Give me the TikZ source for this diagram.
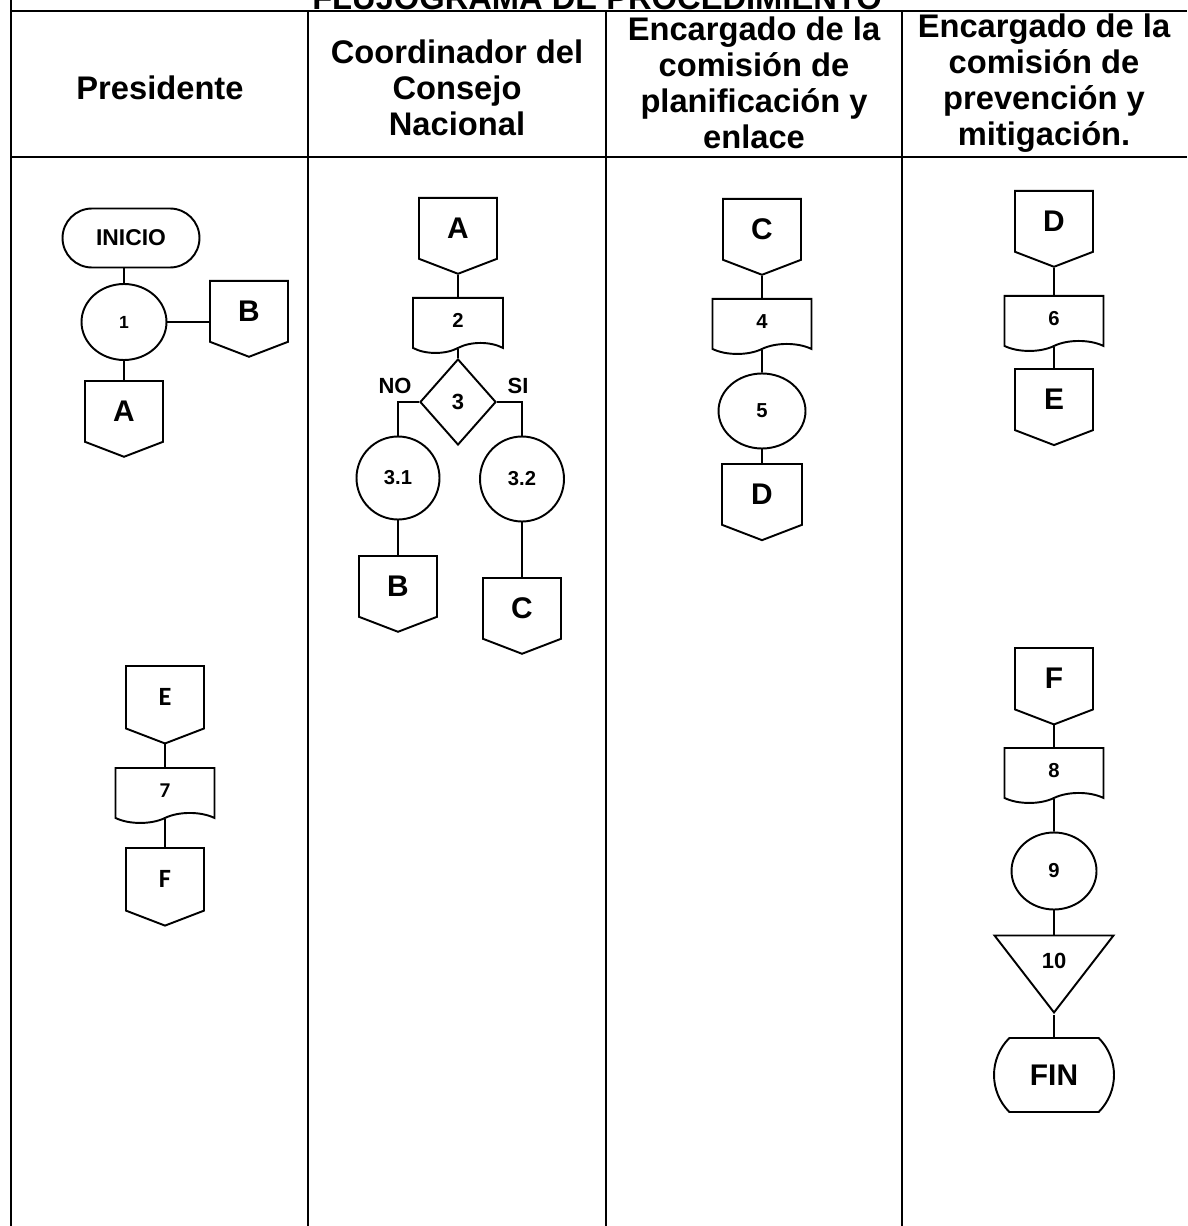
\documentclass[tikz,border=0pt]{standalone}
\usepackage{fontspec}
\setmainfont{Liberation Sans}
\newfontfamily\calfont{Carlito}
\usetikzlibrary{shapes.geometric, shapes.symbols, shapes.misc, positioning}

\tikzset{
  cabecera/.style={align=center, font=\bfseries\fontsize{18.6}{20.5}\selectfont},
  terminal/.style={rounded rectangle, draw, line width=1.1pt, inner sep=0pt},
  paso/.style={ellipse, draw, line width=1.1pt, minimum width=1.7cm, minimum height=1.52cm, inner sep=0pt, font=\bfseries\fontsize{11.5}{12}\selectfont},
  conector/.style={signal, signal to=south, signal from=nowhere, signal pointer angle=138, draw, line width=1.1pt, minimum width=1.56cm, minimum height=1.3cm, inner sep=0pt, font=\bfseries\fontsize{17}{18}\selectfont},
  documento/.style={tape, tape bend top=none, tape bend bottom=in and out, tape bend height=0.2cm, draw, line width=1.1pt, minimum width=1.98cm, minimum height=1.1cm, inner sep=0pt, font=\bfseries\fontsize{11.5}{12}\selectfont},
  decision/.style={diamond, draw, line width=1.1pt, minimum width=1.52cm, minimum height=1.72cm, inner sep=0pt, font=\bfseries\fontsize{12.5}{13}\selectfont},
  archivo/.style={isosceles triangle, shape border rotate=-90, isosceles triangle stretches, draw, line width=1.1pt, minimum width=2.38cm, minimum height=1.54cm, inner sep=0pt, font=\bfseries\fontsize{12.5}{13}\selectfont},
  rama/.style={font=\bfseries\fontsize{12.5}{13}\selectfont},
  linea/.style={line width=1.1pt},
  tabla/.style={line width=0.9pt},
}

\begin{document}
\begin{tikzpicture}[x=0.02cm, y=-0.02cm]

\pgfdeclarelayer{bg}    % capa de fondo para la tabla
\pgfsetlayers{bg,main}

\useasboundingbox (0,0) rectangle (1187,1226);
\clip (0,0) rectangle (1187,1226);

% titulo y cabeceras
\node (titulo)[cabecera, anchor=base] at (597, 10) {FLUJOGRAMA DE PROCEDIMIENTO};
\node (hPres)[cabecera] at (160, 88) {Presidente};
\node (hCoord)[cabecera] at (457, 88) {Coordinador del\\Consejo\\Nacional};
\node (hPlan)[cabecera] at (754, 83) {Encargado de la\\comisión de\\planificación y\\enlace};
\node (hPrev)[cabecera] at (1044, 83) {Encargado de la\\comisión de\\prevención y\\mitigación.};

% Presidente
\node (ini)[terminal, minimum width=2.74cm, minimum height=1.18cm, font=\bfseries\fontsize{13}{14}\selectfont] at (131, 238) {INICIO};
\node (p1)[paso, font=\bfseries\fontsize{10}{11}\selectfont] at (124, 322) {1};
\node (B1)[conector, anchor=north] at (249, 280) {B};
\node (A1)[conector, anchor=north] at (124, 380) {A};

\node (E1)[conector, anchor=north, font=\calfont\bfseries\fontsize{15}{16}\selectfont] at (165, 665) {E};
\node (d7)[documento, anchor=north, font=\calfont\bfseries\fontsize{12}{13}\selectfont] at (165, 767) {7};
\node (F1)[conector, anchor=north, font=\calfont\bfseries\fontsize{15}{16}\selectfont] at (165, 847) {F};

\draw[linea] (ini.south -| p1) -- (p1.north);
\draw[linea] (p1.east) -- (p1.east -| B1.west);
\draw[linea] (p1.south) -- (A1.north);
\draw[linea] (E1.south) -- (d7.north);
\draw[linea] (d7) -- (F1.north);

% Coordinador
\node (A2)[conector, anchor=north] at (458, 197) {A};
\node (d2)[documento, anchor=north, minimum width=1.8cm] at (458, 297) {2};
\node (p3)[decision] at (458, 402) {3};
\node (no)[rama] at (395, 386) {NO};
\node (si)[rama] at (518, 386) {SI};
\node (p31)[paso, minimum width=1.66cm, minimum height=1.66cm] at (398, 478) {3.1};
\node (p32)[paso, minimum width=1.68cm, minimum height=1.7cm] at (522, 479) {3.2};
\node (B2)[conector, anchor=north] at (398, 555) {B};
\node (C2)[conector, anchor=north] at (522, 577) {C};

\draw[linea] (A2.south) -- (d2.north);
\draw[linea] (d2) -- (p3.north);
\draw[linea] (p3.west) -| (p31.north);
\draw[linea] (p3.east) -| (p32.north);
\draw[linea] (p31.south) -- (B2.north);
\draw[linea] (p32.south) -- (C2.north);

% Planificacion
\node (C3)[conector, anchor=north] at (762, 198) {C};
\node (d4)[documento, anchor=north] at (762, 298) {4};
\node (p5)[paso, minimum width=1.74cm, minimum height=1.5cm] at (762, 411) {5};
\node (D3)[conector, anchor=north, minimum width=1.6cm] at (762, 463) {D};

\draw[linea] (C3.south) -- (d4.north);
\draw[linea] (d4) -- (p5.north);
\draw[linea] (p5.south) -- (D3.north);

% Prevencion
\node (D4)[conector, anchor=north] at (1054, 190) {D};
\node (d6)[documento, anchor=north] at (1054, 295) {6};
\node (E4)[conector, anchor=north] at (1054, 368) {E};

\node (F4)[conector, anchor=north] at (1054, 647) {F};
\node (d8)[documento, anchor=north] at (1054, 747) {8};
\node (p9)[paso, minimum width=1.7cm, minimum height=1.54cm] at (1054, 871) {9};
\node (a10)[archivo, anchor=apex] at (1054, 1015) {10};
\node (fin)[terminal, rounded rectangle arc length=90, minimum width=2.4cm, minimum height=1.48cm, font=\bfseries\fontsize{17}{18}\selectfont] at (1054, 1075) {FIN};

\draw[linea] (D4.south) -- (d6.north);
\draw[linea] (d6) -- (E4.north);
\draw[linea] (F4.south) -- (d8.north);
\draw[linea] (d8) -- (p9.north);
\draw[linea] (p9.south) -- (a10.north);
\draw[linea] (a10.apex) -- (fin.north);

\begin{pgfonlayer}{bg}
\draw[tabla] (11,0) -- (11,1226);
\draw[tabla] (11,11) -- (1187,11);
\draw[tabla] (11,157) -- (1187,157);
\foreach \x in {308, 606, 902}
  \draw[tabla] (\x,11) -- (\x,1226);
\end{pgfonlayer}
\end{tikzpicture}
\end{document}
